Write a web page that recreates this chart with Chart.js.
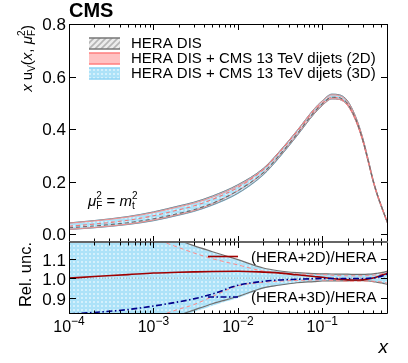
<!DOCTYPE html>
<html>
<head>
<meta charset="utf-8">
<script src="https://cdn.jsdelivr.net/npm/chart.js"></script>
<style>
  body { margin: 0; background: #fff; }
  #wrap { position: relative; width: 408px; height: 363px; }
  #wrap canvas { position: absolute; left: 0; top: 0; }
  #ylabels { position: absolute; left: 0; top: 0; width: 408px; height: 363px; z-index: 5; pointer-events: none; }
  #ylabels span { position: absolute; font: 17px "Liberation Sans", Arial, Helvetica, sans-serif; color: #000; line-height: 17px; text-align: right; width: 40px; }
</style>
</head>
<body>
<div id="wrap">
  <canvas id="top" width="408" height="363"></canvas>
  <canvas id="bot" width="408" height="363"></canvas>
  <div id="ylabels"></div>
</div>
<script>
// values
const xs    = [1e-4, 2e-4, 5e-4, 1e-3, 2e-3, 3e-3, 5e-3, 1e-2, 2e-2, 3e-2, 5e-2, 8e-2, 0.1, 0.13, 0.16, 0.2, 0.25, 0.3, 0.35, 0.4, 0.45, 0.5, 0.55, 0.6];
// x*u_v for the HERA DIS fit
const heraC = [0.030, 0.038, 0.052, 0.068, 0.090, 0.104, 0.128, 0.172, 0.238, 0.298, 0.383, 0.466, 0.497, 0.522, 0.520, 0.497, 0.437, 0.362, 0.279, 0.203, 0.148, 0.106, 0.070, 0.038];
// band edges relative to HERA central
const heraUp = [1.42, 1.36, 1.29, 1.245, 1.195, 1.167, 1.136, 1.095, 1.052, 1.038, 1.028, 1.023, 1.022, 1.021, 1.020, 1.020, 1.019, 1.019, 1.020, 1.022, 1.025, 1.028, 1.032, 1.036];
const heraDn = [0.58, 0.64, 0.71, 0.755, 0.808, 0.835, 0.868, 0.905, 0.950, 0.963, 0.976, 0.982, 0.985, 0.986, 0.986, 0.986, 0.987, 0.987, 0.985, 0.982, 0.978, 0.975, 0.971, 0.967];
const d2Up   = [1.38, 1.32, 1.25, 1.205, 1.157, 1.13, 1.10, 1.068, 1.036, 1.028, 1.022, 1.019, 1.018, 1.015, 1.013, 1.012, 1.012, 1.012, 1.013, 1.015, 1.018, 1.022, 1.026, 1.030];
const d2Dn   = [0.62, 0.67, 0.74, 0.795, 0.840, 0.863, 0.905, 0.960, 0.978, 0.984, 0.988, 0.990, 0.990, 0.988, 0.986, 0.984, 0.984, 0.985, 0.985, 0.984, 0.982, 0.980, 0.977, 0.973];
const d3Up   = [1.42, 1.36, 1.29, 1.245, 1.195, 1.165, 1.133, 1.092, 1.050, 1.037, 1.028, 1.023, 1.022, 1.021, 1.020, 1.020, 1.019, 1.019, 1.020, 1.022, 1.025, 1.028, 1.032, 1.036];
const d3Dn   = [0.58, 0.63, 0.70, 0.745, 0.798, 0.825, 0.858, 0.897, 0.945, 0.960, 0.975, 0.982, 0.985, 0.986, 0.986, 0.986, 0.987, 0.987, 0.985, 0.982, 0.978, 0.975, 0.971, 0.967];
// central ratios to HERA
const ratio2D = [1.000, 1.008, 1.018, 1.026, 1.030, 1.032, 1.034, 1.035, 1.031, 1.027, 1.017, 1.008, 1.004, 0.998, 0.994, 0.991, 0.990, 0.991, 0.995, 1.000, 1.007, 1.014, 1.020, 1.026];
const ratio3D = [0.815, 0.823, 0.838, 0.856, 0.878, 0.893, 0.918, 0.963, 0.983, 0.990, 0.994, 0.997, 0.998, 0.998, 0.998, 0.998, 0.998, 0.998, 0.999, 1.001, 1.005, 1.010, 1.016, 1.022];
const unityX = [1e-4, 0.6];
const unityY = [1, 1];

const xMin = 1e-4, xMax = 0.6;
const xMajor = [1e-4, 1e-3, 1e-2, 1e-1];
const xExp = ['\u22124', '\u22123', '\u22122', '\u22121'];
const yTicksTop = [0.0, 0.2, 0.4, 0.6, 0.8];
const yTicksBot = [0.9, 1.0, 1.1];
const legendNames = ['HERA DIS', 'HERA DIS + CMS 13 TeV dijets (2D)', 'HERA DIS + CMS 13 TeV dijets (3D)'];
const ratioNames = ['(HERA+2D)/HERA', '(HERA+3D)/HERA'];

const FONT = '"Liberation Sans", Arial, Helvetica, sans-serif';
Chart.defaults.font.family = FONT;
Chart.defaults.color = '#000';

const pts = arr => xs.map((x, i) => ({ x: x, y: arr[i] }));
const scaled = r => heraC.map((v, i) => v * r[i]);

// fill patterns
function hatchPattern() {
  const c = document.createElement('canvas');
  c.width = 6; c.height = 6;
  const g = c.getContext('2d');
  g.fillStyle = '#ececec';
  g.fillRect(0, 0, 6, 6);
  g.strokeStyle = '#b5b5b5';
  g.lineWidth = 1.6;
  g.beginPath();
  g.moveTo(-1, 7); g.lineTo(7, -1);
  g.moveTo(-4, 4); g.lineTo(4, -4);
  g.moveTo(2, 10); g.lineTo(10, 2);
  g.stroke();
  return g.createPattern(c, 'repeat');
}
function dotPattern() {
  const c = document.createElement('canvas');
  c.width = 4; c.height = 4;
  const g = c.getContext('2d');
  g.fillStyle = '#ade2f8';
  g.fillRect(0, 0, 4, 4);
  g.fillStyle = '#d4f0fc';
  g.fillRect(1, 1, 2, 2);
  return g.createPattern(c, 'repeat');
}
const hatch = hatchPattern();
const dots = dotPattern();

function fillSet(data, bg, order) {
  return { data: data, fill: bg ? '+1' : false, backgroundColor: bg || 'transparent',
           borderWidth: 0, borderColor: 'transparent', order: order };
}
function lineSet(data, color, width, dash, order) {
  return { data: data, fill: false, borderColor: color, borderWidth: width,
           borderDash: dash || [], order: order };
}

// rich text: segments {t, f, dy, stay}
function rich(ctx, segs, x, y, measureOnly) {
  let cx = x, pend = 0;
  segs.forEach(s => {
    ctx.font = s.f;
    const w = ctx.measureText(s.t).width;
    if (!measureOnly) ctx.fillText(s.t, cx, y + (s.dy || 0));
    if (s.stay) { pend = w; }
    else { cx += Math.max(w, pend); pend = 0; }
  });
  return cx - x;
}

function yTickMarks(ctx, area, sy, vals, len) {
  ctx.beginPath();
  vals.forEach(v => {
    const py = Math.round(sy.getPixelForValue(v)) + 0.5;
    ctx.moveTo(area.left, py); ctx.lineTo(area.left + len, py);
    ctx.moveTo(area.right, py); ctx.lineTo(area.right - len, py);
  });
  ctx.stroke();
}
function yTickLabels(ctx, area, sy, vals) {
  ctx.save();
  ctx.font = '17px ' + FONT;
  ctx.fillStyle = '#000';
  ctx.textAlign = 'left';
  ctx.textBaseline = 'alphabetic';
  vals.forEach(v => {
    const s = v.toFixed(1);
    const w = ctx.measureText(s).width;
    ctx.fillText(s, area.left - 3 - w, sy.getPixelForValue(v) + 7);
  });
  ctx.restore();
}
function xTickMarks(ctx, sx, yEdge, dir) {
  ctx.beginPath();
  for (let e = -4; e <= -1; e++) {
    for (let m = 1; m <= 9; m++) {
      const v = m * Math.pow(10, e);
      if (v > xMax) break;
      const px = Math.round(sx.getPixelForValue(v)) + 0.5;
      const len = m === 1 ? 6 : 3.5;
      ctx.moveTo(px, yEdge);
      ctx.lineTo(px, yEdge + dir * len);
    }
  }
  ctx.stroke();
}

const topDecor = {
  id: 'topDecor',
  afterDraw(chart) {
    const ctx = chart.ctx, a = chart.chartArea;
    const sx = chart.scales.x, sy = chart.scales.y;
    ctx.save();
    ctx.strokeStyle = '#000';
    ctx.lineWidth = 1;
    ctx.beginPath();
    ctx.moveTo(a.left + 0.5, a.bottom); ctx.lineTo(a.left + 0.5, a.top + 0.5);
    ctx.lineTo(a.right - 0.5, a.top + 0.5); ctx.lineTo(a.right - 0.5, a.bottom);
    ctx.stroke();
    yTickMarks(ctx, a, sy, yTicksTop, 7);
    xTickMarks(ctx, sx, a.top, 1);
    xTickMarks(ctx, sx, a.bottom, -1);

    ctx.fillStyle = '#000';
    ctx.textBaseline = 'alphabetic';
    ctx.textAlign = 'left';
    ctx.font = 'bold 20px ' + FONT;
    ctx.fillText('CMS', 69, 17);

    // y title
    const it = 'italic 15px ' + FONT, rm = '15px ' + FONT, sm = '10px ' + FONT;
    const ytitle = [
      { t: 'x', f: it }, { t: ' u', f: rm }, { t: 'V', f: sm, dy: 3 },
      { t: '(', f: rm }, { t: 'x', f: it }, { t: ', ', f: rm }, { t: '\u03bc', f: it },
      { t: '2', f: sm, dy: -7, stay: true }, { t: 'F', f: sm, dy: 3 }, { t: ')', f: rm }
    ];
    const w = rich(ctx, ytitle, 0, 0, true);
    ctx.save();
    ctx.translate(32, 25 + w);
    ctx.rotate(-Math.PI / 2);
    rich(ctx, ytitle, 0, 0);
    ctx.restore();

    // scale annotation
    rich(ctx, [
      { t: '\u03bc', f: it }, { t: '2', f: sm, dy: -7, stay: true }, { t: 'F', f: sm, dy: 3 },
      { t: ' = ', f: rm }, { t: 'm', f: it }, { t: '2', f: sm, dy: -7, stay: true }, { t: 't', f: sm, dy: 3 }
    ], 88, 206);

    // legend
    const rows = [
      { y: 43.5, fill: hatch, edge: '#777777' },
      { y: 58.5, fill: '#ffc2c2', edge: '#ff7f7f' },
      { y: 73.5, fill: dots, edge: '#8fd4f4' }
    ];
    rows.forEach((r, i) => {
      ctx.fillStyle = r.fill;
      ctx.fillRect(89, r.y - 5.5, 31, 11);
      ctx.strokeStyle = r.edge;
      ctx.lineWidth = 1.5;
      ctx.beginPath();
      ctx.moveTo(89, r.y - 5.5); ctx.lineTo(120, r.y - 5.5);
      ctx.moveTo(89, r.y + 5.5); ctx.lineTo(120, r.y + 5.5);
      ctx.stroke();
      ctx.fillStyle = '#000';
      ctx.font = '15px ' + FONT;
      ctx.textBaseline = 'middle';
      ctx.fillText(legendNames[i], 131, r.y + 0.5);
    });
    ctx.restore();
  }
};

const botDecor = {
  id: 'botDecor',
  afterDraw(chart) {
    const ctx = chart.ctx, a = chart.chartArea;
    const sx = chart.scales.x, sy = chart.scales.y;
    ctx.save();
    ctx.strokeStyle = '#000';
    ctx.lineWidth = 1;
    ctx.beginPath();
    ctx.moveTo(a.left + 0.5, a.top); ctx.lineTo(a.left + 0.5, a.bottom - 0.5);
    ctx.lineTo(a.right - 0.5, a.bottom - 0.5); ctx.lineTo(a.right - 0.5, a.top);
    ctx.stroke();
    ctx.strokeStyle = '#666';
    ctx.lineWidth = 2;
    ctx.beginPath();
    ctx.moveTo(a.left, a.top); ctx.lineTo(a.right, a.top);
    ctx.stroke();
    ctx.strokeStyle = '#000';
    ctx.lineWidth = 1;
    yTickMarks(ctx, a, sy, yTicksBot, 7);
    yTickLabels(ctx, a, sy, yTicksBot);
    xTickMarks(ctx, sx, a.top, 1);
    xTickMarks(ctx, sx, a.bottom, -1);

    // x tick labels 10^n
    ctx.fillStyle = '#000';
    ctx.textBaseline = 'alphabetic';
    ctx.textAlign = 'left';
    xMajor.forEach((v, i) => {
      const segs = [{ t: '10', f: '16px ' + FONT }, { t: xExp[i], f: '12px ' + FONT, dy: -7 }];
      const w = rich(ctx, segs, 0, 0, true);
      rich(ctx, segs, sx.getPixelForValue(v) - w / 2, 332);
    });

    // x title
    ctx.font = 'italic 19px ' + FONT;
    ctx.textAlign = 'right';
    ctx.fillText('x', 388, 353);
    ctx.textAlign = 'left';

    // y title
    ctx.font = '16.5px ' + FONT;
    const w = ctx.measureText('Rel. unc.').width;
    ctx.save();
    ctx.translate(31, 242 + w);
    ctx.rotate(-Math.PI / 2);
    ctx.fillText('Rel. unc.', 0, 0);
    ctx.restore();

    // ratio legend
    ctx.lineWidth = 1.6;
    ctx.strokeStyle = '#a00000';
    ctx.setLineDash([]);
    ctx.beginPath(); ctx.moveTo(208, 256.5); ctx.lineTo(238, 256.5); ctx.stroke();
    ctx.strokeStyle = '#00008b';
    ctx.setLineDash([6, 2.5, 1.5, 2.5]);
    ctx.beginPath(); ctx.moveTo(208, 297); ctx.lineTo(238, 297); ctx.stroke();
    ctx.setLineDash([]);
    ctx.font = '15px ' + FONT;
    ctx.textBaseline = 'middle';
    ctx.fillText(ratioNames[0], 251, 257.5);
    ctx.fillText(ratioNames[1], 251, 298);
    ctx.restore();
  }
};

const common = {
  responsive: false,
  animation: false,
  events: [],
  elements: { point: { radius: 0 }, line: { tension: 0.3, cubicInterpolationMode: 'monotone' } },
  plugins: { legend: { display: false }, tooltip: { enabled: false } }
};

function yScale(min, max, vals) {
  return {
    type: 'linear', min: min, max: max, position: 'left',
    afterFit: s => { s.width = 69; },
    afterBuildTicks: s => { s.ticks = vals.map(v => ({ value: v })); },
    grid: { display: false, drawTicks: false },
    border: { display: false },
    ticks: { display: false }
  };
}

const topChart = new Chart(document.getElementById('top'), {
  type: 'line',
  data: {
    datasets: [
      fillSet(pts(scaled(heraUp)), hatch, 20),
      fillSet(pts(scaled(heraDn)), null, 20),
      fillSet(pts(scaled(d2Up)), '#ffc2c2', 18),
      fillSet(pts(scaled(d2Dn)), null, 18),
      fillSet(pts(scaled(d3Up)), dots, 16),
      fillSet(pts(scaled(d3Dn)), null, 16),
      lineSet(pts(scaled(d3Up)), '#8ccff2', 1, null, 10),
      lineSet(pts(scaled(d3Dn)), '#8ccff2', 1, null, 10),
      lineSet(pts(scaled(heraUp)), '#858585', 0.9, null, 8),
      lineSet(pts(scaled(heraDn)), '#858585', 0.9, null, 8),
      lineSet(pts(scaled(d2Up)), '#f29090', 1, null, 7),
      lineSet(pts(scaled(d2Dn)), '#f29090', 1, null, 7),
      lineSet(pts(scaled(ratio2D)), '#f07878', 1.1, [4, 3], 4),
      lineSet(pts(scaled(ratio3D)), '#6a6a6a', 1.1, [4, 3], 3)
    ]
  },
  options: Object.assign({}, common, {
    layout: { padding: { left: 0, right: 20, top: 24, bottom: 121 } },
    scales: {
      x: { type: 'logarithmic', min: xMin, max: xMax, display: false },
      y: yScale(-0.03, 0.8, yTicksTop)
    }
  }),
  plugins: [topDecor]
});

new Chart(document.getElementById('bot'), {
  type: 'line',
  data: {
    datasets: [
      fillSet(pts(d3Up), dots, 20),
      fillSet(pts(d3Dn), null, 20),
      lineSet(unityX.map((x, i) => ({ x: x, y: unityY[i] })), '#9aa7ad', 1, [1, 2], 10),
      lineSet(pts(heraUp), '#6f6f6f', 1.2, null, 6),
      lineSet(pts(heraDn), '#6f6f6f', 1.2, null, 6),
      lineSet(pts(d2Up), '#ff8a8a', 1, [4, 3], 5),
      lineSet(pts(d2Dn), '#ff8a8a', 1, [4, 3], 5),
      lineSet(pts(ratio2D), '#a00000', 1.6, null, 2),
      lineSet(pts(ratio3D), '#00008b', 1.6, [6, 2.5, 1.5, 2.5], 1)
    ]
  },
  options: Object.assign({}, common, {
    layout: { padding: { left: 0, right: 20, top: 242, bottom: 49 } },
    scales: {
      x: { type: 'logarithmic', min: xMin, max: xMax, display: false },
      y: yScale(0.815, 1.186, yTicksBot)
    }
  }),
  plugins: [botDecor]
});

// upper panel tick labels as page text, placed with the chart's own y scale
const box = document.getElementById('ylabels');
const topY = topChart.scales.y, topArea = topChart.chartArea;
yTicksTop.forEach(v => {
  const el = document.createElement('span');
  el.textContent = v.toFixed(1);
  el.style.left = (topArea.left - 3 - 40) + 'px';
  el.style.top = (topY.getPixelForValue(v) - 8) + 'px';
  box.appendChild(el);
});
</script>
</body>
</html>
